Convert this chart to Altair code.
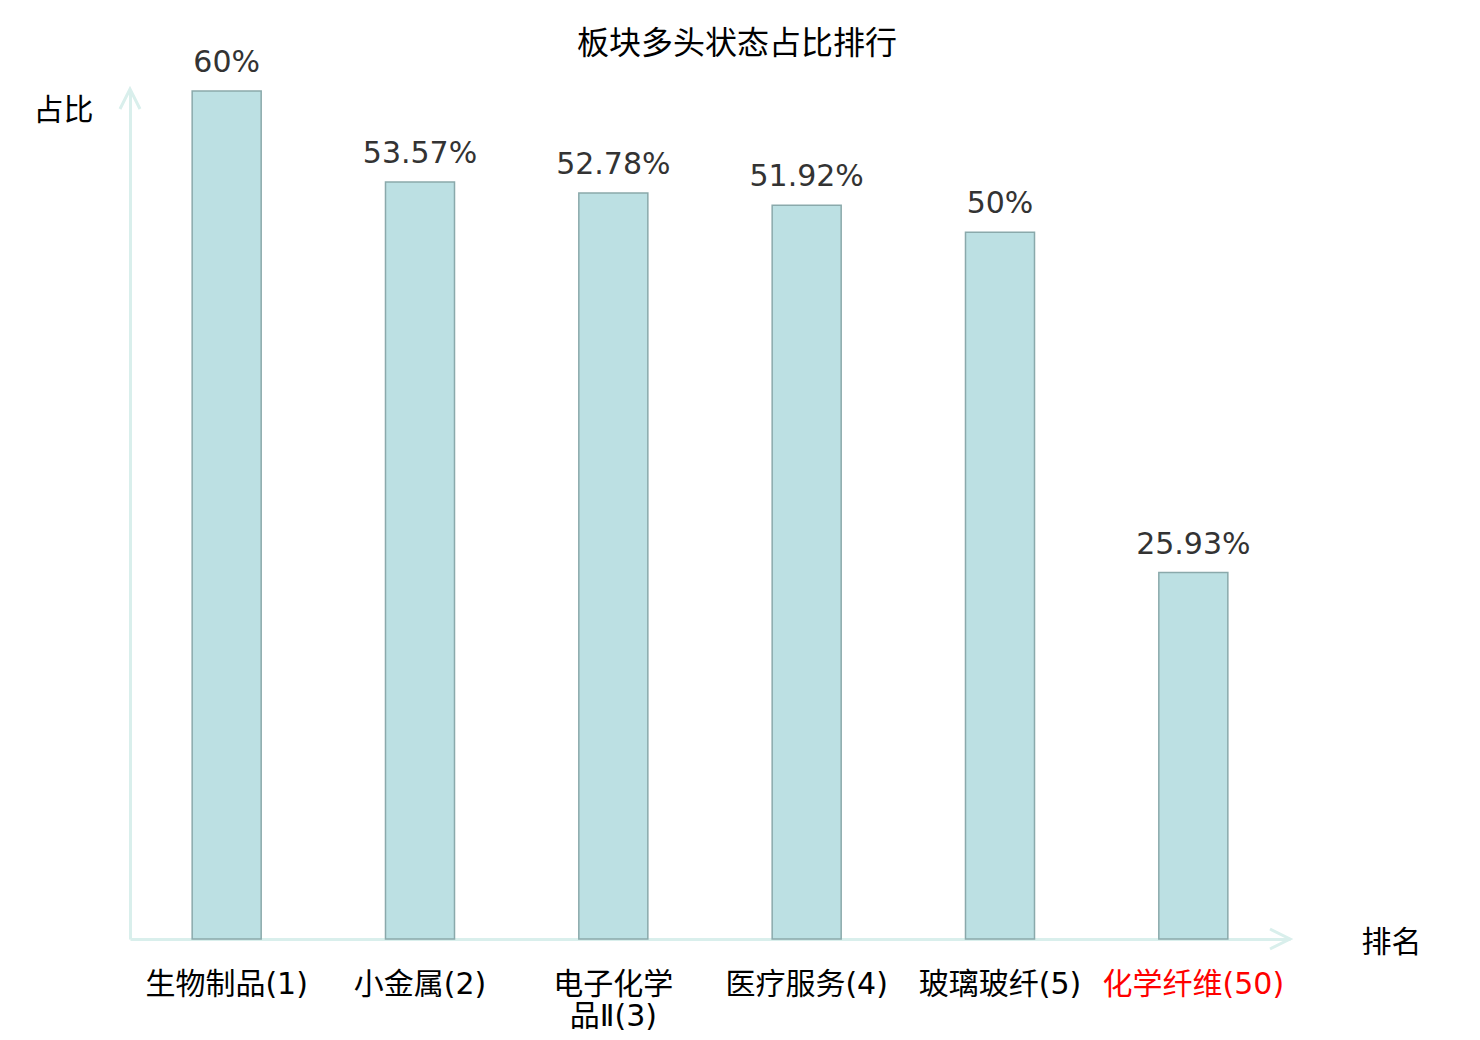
import altair as alt
import pandas as pd

categories = ["生物制品(1)", "小金属(2)", "电子化学品Ⅱ(3)", "医疗服务(4)", "玻璃玻纤(5)", "化学纤维(50)"]
values = [60, 53.57, 52.78, 51.92, 50, 25.93]
highlight = "化学纤维(50)"

df = pd.DataFrame({"cat": categories, "v": values})

W, H = 1160, 848
AXIS_COLOR = "#d9efec"
FONT = "DejaVu Sans, Noto Sans CJK SC"

base = alt.Chart(df)

x_enc = alt.X(
    "cat:N",
    sort=categories,
    scale=alt.Scale(paddingInner=0, paddingOuter=0),
    axis=alt.Axis(
        title="排名",
        titleFont=FONT,
        titleFontSize=30,
        titleFontWeight="normal",
        titleColor="#000000",
        titleAngle=0,
        titleX=1261,
        titleY=3,
        titleAlign="center",
        titleBaseline="middle",
        labelAngle=0,
        labelFont=FONT,
        labelFontSize=30,
        labelPadding=30,
        labelLineHeight=32,
        labelLimit=400,
        labelColor={"expr": f"datum.value == '{highlight}' ? '#ff0000' : '#000000'"},
        labelExpr="length(datum.label) > 8 ? [substring(datum.label, 0, 4), substring(datum.label, 4)] : datum.label",
        ticks=False,
        domainColor=AXIS_COLOR,
        domainWidth=3,
        grid=False,
    ),
)

y_enc = alt.Y(
    "v:Q",
    scale=alt.Scale(domain=[0, 60], nice=False),
    axis=alt.Axis(
        title="占比",
        titleFont=FONT,
        titleFontSize=30,
        titleFontWeight="normal",
        titleColor="#000000",
        titleAngle=0,
        titleX=-67,
        titleY=19,
        titleAlign="center",
        titleBaseline="middle",
        labels=False,
        ticks=False,
        grid=False,
        domainColor=AXIS_COLOR,
        domainWidth=3,
    ),
)

bars = base.mark_bar(
    width=alt.RelativeBandSize(0.357),
    color="#bce0e3",
    stroke="#8aa9ab",
    strokeWidth=1.5,
).encode(x=x_enc, y=y_enc)

texts = base.transform_calculate(lbl="datum.v + '%'").mark_text(
    baseline="alphabetic",
    dy=-19,
    font=FONT,
    fontSize=30,
    color="#333333",
).encode(x=alt.X("cat:N", sort=categories), y=alt.Y("v:Q"), text="lbl:N")

arrow_df = pd.DataFrame({"a": [0]})
up_arrow = alt.Chart(arrow_df).mark_point(
    shape="M-1,2L0,0L1,2",
    size=400,
    filled=False,
    stroke=AXIS_COLOR,
    strokeWidth=3,
    opacity=1,
).encode(x=alt.value(0), y=alt.value(-2))

right_arrow = alt.Chart(arrow_df).mark_point(
    shape="M-2,-1L0,0L-2,1",
    size=400,
    filled=False,
    stroke=AXIS_COLOR,
    strokeWidth=3,
    opacity=1,
).encode(x=alt.value(W), y=alt.value(H))

chart = alt.layer(bars, texts, up_arrow, right_arrow).properties(
    width=W,
    height=H,
    autosize=alt.AutoSizeParams(type="none"),
    padding={"left": 122, "top": 83, "right": 170, "bottom": 93},
    title=alt.TitleParams(
        "板块多头状态占比排行",
        font=FONT,
        fontSize=32,
        fontWeight="normal",
        color="#000000",
        anchor="middle",
        frame="group",
        dx=27,
        offset=-13,
    ),
).configure_view(stroke=None)

chart.save("out.html", embed_options={"renderer": "svg", "actions": False})
